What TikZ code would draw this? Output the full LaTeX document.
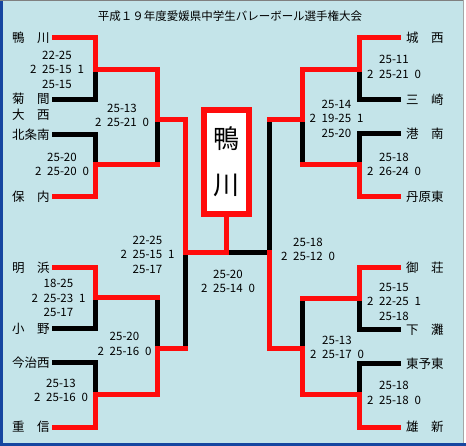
\documentclass[tikz,border=0pt]{standalone}
\usepackage{fontspec}
\setmainfont{Noto Sans CJK JP}
\definecolor{bgblue}{RGB}{196,228,233}
\definecolor{frameblue}{RGB}{22,70,160}
\definecolor{winred}{RGB}{255,12,12}

\tikzset{
  win/.style={draw=winred, line width=5pt, line cap=rect},
  lose/.style={draw=black, line width=5pt, line cap=rect},
  team/.style={anchor=west, inner sep=0pt, font=\fontsize{12.5}{14}\selectfont},
  score/.style={align=center, inner sep=0pt, font=\fontsize{11.5}{14.5}\selectfont},
}
\newcommand\midset[3]{#1\hspace{.5em}#2\hspace{.5em}#3}

\begin{document}
\begin{tikzpicture}[x=1pt, y=-1pt, line join=miter]
    \useasboundingbox (0,0) rectangle (466,446);
    % 背景と枠
    \fill[bgblue] (0,0) rectangle (466,446);
    \fill[frameblue] (0,0) rectangle (2.5,446);
    \fill[frameblue] (0,443) rectangle (466,446);
    \draw[gray, line width=1pt] (0,0.5) -- (466,0.5);
    \draw[gray!70, line width=1pt] (463.5,0) -- (463.5,443);
    \fill[white] (464,0) rectangle (466,443);

    \node (title) [font=\fontsize{11.5}{14}\selectfont, inner sep=0pt] at (230,16)
        {平成１９年度愛媛県中学生バレーボール選手権大会};

    % 1. 左側のチーム
    \node (t1) [team] at (12,38) {鴨　川};
    \node (t2) [team] at (12,99) {菊　間};
    \node (t2b) [team] at (12,115) {大　西};
    \node (t3) [team] at (12,135) {北条南};
    \node (t4) [team] at (12,197) {保　内};
    \node (t5) [team] at (12,268) {明　浜};
    \node (t6) [team] at (12,329) {小　野};
    \node (t7) [team] at (12,363) {今治西};
    \node (t8) [team] at (12,427) {重　信};

    % 2. 右側のチーム
    \node (u1) [team] at (406,38) {城　西};
    \node (u2) [team] at (406,100) {三　崎};
    \node (u3) [team] at (406,134) {港　南};
    \node (u4) [team] at (406,197) {丹原東};
    \node (u5) [team] at (406,268) {御　荘};
    \node (u6) [team] at (406,330) {下　灘};
    \node (u7) [team] at (406,364) {東予東};
    \node (u8) [team] at (406,427) {雄　新};

    % 線の端点
    \coordinate (a1) at (54.5,38);
    \coordinate (a2) at (54.5,100);
    \coordinate (a3) at (54.5,135);
    \coordinate (a4) at (54.5,197);
    \coordinate (a5) at (54.5,268);
    \coordinate (a6) at (54.5,329);
    \coordinate (a7) at (54.5,363);
    \coordinate (a8) at (54.5,427);
    \coordinate (b1) at (398.5,38);
    \coordinate (b2) at (398.5,100);
    \coordinate (b3) at (398.5,134);
    \coordinate (b4) at (398.5,197);
    \coordinate (b5) at (398.5,268);
    \coordinate (b6) at (398.5,330);
    \coordinate (b7) at (398.5,364);
    \coordinate (b8) at (398.5,427);

    % 組み合わせの合流点
    \coordinate (m1) at (95,70);
    \coordinate (m2) at (95,165);
    \coordinate (m3) at (95,298);
    \coordinate (m4) at (95,394);
    \coordinate (q1) at (157,120);
    \coordinate (q2) at (157,349);
    \coordinate (m5) at (359,70);
    \coordinate (m6) at (359,165);
    \coordinate (m7) at (359,299);
    \coordinate (m8) at (359,394);
    \coordinate (q3) at (302,120);
    \coordinate (q4) at (302,349);
    \coordinate (f1) at (185,253);
    \coordinate (f2) at (269,253);

    % 優勝校
    \node (champ) [draw=winred, line width=6pt, fill=white, minimum width=45pt,
        minimum height=104pt, inner sep=0pt, align=center,
        font=\fontsize{26}{46}\selectfont] at (226.5,162) {鴨\\川};

    % 3. 負けた側 (黒)
    \draw[lose] (a2) -| (m1);
    \draw[lose] (a3) -| (m2);
    \draw[lose] (q1) -- (m2 -| q1);
    \draw[lose] (a6) -| (m3);
    \draw[lose] (a7) -| (m4);
    \draw[lose] (q2) -- (m3 -| q2);
    \draw[lose] (f1) -- (f1 |- q2);
    \draw[lose] (b2) -| (m5);
    \draw[lose] (b3) -| (m6);
    \draw[lose] (q3) -- (m6 -| q3);
    \draw[lose] (b6) -| (m7);
    \draw[lose] (b7) -| (m8);
    \draw[lose] (q4) -- (m7 -| q4);
    \draw[lose] (f2 |- q3) -- (f2) -- (champ.south |- f2);

    % 4. 勝ち上がり (赤)
    \draw[win] (a1) -| (m1) -| (q1) -| (f1) -| (champ.south);
    \draw[win] (a4) -| (m2) -- (m2 -| q1);
    \draw[win] (a5) -| (m3) -- (m3 -| q2);
    \draw[win] (a8) -| (m4) -| (q2) -- (f1 |- q2);
    \draw[win] (b1) -| (m5) -| (q3) -- (f2 |- q3);
    \draw[win] (b4) -| (m6) -- (m6 -| q3);
    \draw[win] (b5) -| (m7) -- (m7 -| q4);
    \draw[win] (b8) -| (m8) -| (q4) -| (f2);

    % 5. スコア
    \node (s1) [score] at (57,69.5) {22-25\\\midset{2}{25-15}{1}\\25-15};
    \node (s2) [score] at (62,164.5) {25-20\\\midset{2}{25-20}{0}};
    \node (s3) [score] at (122,115.5) {25-13\\\midset{2}{25-21}{0}};
    \node (s4) [score] at (58.5,298) {18-25\\\midset{2}{25-23}{1}\\25-17};
    \node (s5) [score] at (61,390.5) {25-13\\\midset{2}{25-16}{0}};
    \node (s6) [score] at (124.5,344) {25-20\\\midset{2}{25-16}{0}};
    \node (s7) [score] at (147.5,254.5) {22-25\\\midset{2}{25-15}{1}\\25-17};
    \node (s8) [score] at (228,281.5) {25-20\\\midset{2}{25-14}{0}};
    \node (s9) [score] at (308,249.5) {25-18\\\midset{2}{25-12}{0}};
    \node (s10) [score] at (336.5,118.5) {25-14\\\midset{2}{19-25}{1}\\25-20};
    \node (s11) [score] at (394,67) {25-11\\\midset{2}{25-21}{0}};
    \node (s12) [score] at (394,164.5) {25-18\\\midset{2}{26-24}{0}};
    \node (s13) [score] at (394,301.5) {25-15\\\midset{2}{22-25}{1}\\25-18};
    \node (s14) [score] at (337,347.5) {25-13\\\midset{2}{25-17}{0}};
    \node (s15) [score] at (394,393) {25-18\\\midset{2}{25-18}{0}};
\end{tikzpicture}
\end{document}
